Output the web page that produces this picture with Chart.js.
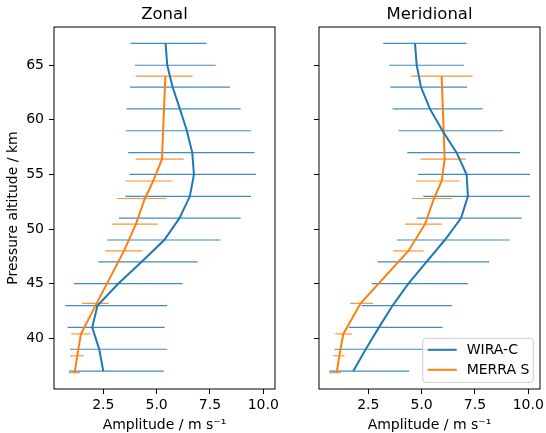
<!DOCTYPE html>
<html>
<head>
<meta charset="utf-8">
<script src="https://cdn.jsdelivr.net/npm/chart.js@4.4.1/dist/chart.umd.min.js"></script>
<style>
  html, body { margin: 0; padding: 0; background: #fff; }
  #wrap { position: relative; width: 546px; height: 433px; }
  canvas { position: absolute; top: 0; }
  #zonal { left: 0; }
  #merid { left: 280px; }
</style>
</head>
<body>
<div id="wrap">
  <canvas id="zonal" width="280" height="433"></canvas>
  <canvas id="merid" width="266" height="433"></canvas>
</div>
<script>
// altitudes (km)
const wiraAlt = [37, 39, 41, 43, 45, 47, 49, 51, 53, 55, 57, 59, 61, 63, 65, 67];
const merraAlt = [36.85, 38.4, 40.4, 43.2, 48.0, 50.45, 52.8, 54.4, 56.4, 64.0];

// zonal amplitudes (m/s) and error bar ends
const zonalWira = [2.5, 2.31, 1.98, 2.23, 3.2, 4.3, 5.36, 6.07, 6.56, 6.75, 6.67, 6.42, 6.09, 5.75, 5.5, 5.42];
const zonalWiraLo = [0.89, 0.94, 0.83, 0.72, 1.13, 2.27, 2.69, 3.23, 3.53, 3.73, 3.67, 3.56, 3.59, 3.75, 3.98, 3.78];
const zonalWiraHi = [5.33, 5.5, 5.38, 5.5, 6.22, 6.92, 8.0, 8.94, 9.42, 9.66, 9.59, 9.44, 8.94, 8.44, 7.77, 7.34];
const zonalMerra = [1.16, 1.28, 1.45, 2.19, 3.47, 4.03, 4.45, 4.84, 5.25, 5.41];
const zonalMerraLo = [0.89, 0.95, 1.0, 1.5, 2.59, 2.91, 3.16, 3.52, 4.03, 4.02];
const zonalMerraHi = [1.41, 1.58, 1.89, 2.75, 4.34, 5.05, 5.47, 5.75, 6.27, 6.69];

// meridional amplitudes (m/s) and error bar ends
const meridWira = [1.8, 2.38, 3.0, 3.64, 4.38, 5.23, 6.09, 6.85, 7.17, 7.11, 6.64, 5.98, 5.39, 4.97, 4.77, 4.69];
const meridWiraLo = [0.67, 0.91, 1.59, 2.19, 2.66, 2.94, 3.83, 4.77, 5.08, 4.84, 4.33, 3.91, 3.64, 3.53, 3.48, 3.2];
const meridWiraHi = [4.42, 5.3, 5.98, 6.42, 7.17, 8.17, 9.11, 9.69, 10.08, 10.08, 9.61, 8.81, 7.86, 7.13, 6.98, 7.11];
const meridMerra = [1.02, 1.14, 1.33, 2.14, 4.38, 5.16, 5.58, 5.94, 6.08, 5.94];
const meridMerraLo = [0.67, 0.86, 0.95, 1.64, 3.66, 4.22, 4.56, 4.73, 4.95, 4.5];
const meridMerraHi = [1.22, 1.39, 1.73, 2.72, 5.09, 5.94, 6.44, 6.77, 7.08, 7.39];

const xTicks = [2.5, 5.0, 7.5, 10.0];
const yTicks = [40, 45, 50, 55, 60, 65];

const BLUE = '#1f77b4';
const ORANGE = '#ff7f0e';
const FONT = 'DejaVu Sans';

function pts(xs, ys) {
    return xs.map((x, i) => ({ x: x, y: ys[i] }));
}

// horizontal error bars, drawn under the lines
const errorBars = {
    id: 'errorBars',
    beforeDatasetsDraw(chart) {
        const ctx = chart.ctx;
        const xs = chart.scales.x;
        const ys = chart.scales.y;
        ctx.save();
        ctx.lineWidth = 1.2;
        chart.data.datasets.forEach((ds) => {
            ctx.strokeStyle = ds.barColor;
            ds.lo.forEach((lo, i) => {
                const y = ys.getPixelForValue(ds.data[i].y);
                ctx.beginPath();
                ctx.moveTo(xs.getPixelForValue(lo), y);
                ctx.lineTo(xs.getPixelForValue(ds.hi[i]), y);
                ctx.stroke();
            });
        });
        ctx.restore();
    }
};

// box round the plot and the title above it
const frame = {
    id: 'frame',
    afterDraw(chart, args, opts) {
        const ctx = chart.ctx;
        const a = chart.chartArea;
        ctx.save();
        ctx.strokeStyle = '#000';
        ctx.lineWidth = 1;
        ctx.strokeRect(a.left, a.top, a.right - a.left, a.bottom - a.top);
        ctx.fillStyle = '#000';
        ctx.font = '16.5px "' + FONT + '"';
        ctx.textAlign = 'center';
        ctx.textBaseline = 'alphabetic';
        ctx.fillText(opts.text, (a.left + a.right) / 2, a.top - 8);

        if (opts.legend) {
            const w = 110.6, h = 44;
            const bx = a.right - 6.7 - w;
            const by = a.bottom - 6.7 - h;
            ctx.fillStyle = 'rgba(255,255,255,0.8)';
            ctx.strokeStyle = '#cccccc';
            ctx.beginPath();
            ctx.roundRect(bx, by, w, h, 3);
            ctx.fill();
            ctx.stroke();
            ctx.font = '14px "' + FONT + '"';
            ctx.textAlign = 'left';
            ctx.textBaseline = 'middle';
            chart.data.datasets.forEach((ds, i) => {
                const y = by + 11.5 + i * 20;
                ctx.strokeStyle = ds.borderColor;
                ctx.lineWidth = 2;
                ctx.beginPath();
                ctx.moveTo(bx + 5, y);
                ctx.lineTo(bx + 34, y);
                ctx.stroke();
                ctx.fillStyle = '#000';
                ctx.fillText(ds.label, bx + 44, y + 0.5);
            });
        }
        ctx.restore();
    }
};

function makeChart(id, title, wira, wLo, wHi, merra, mLo, mHi, showY, yWidth, padRight, legend) {
    return new Chart(document.getElementById(id), {
        type: 'scatter',
        data: {
            datasets: [{
                label: 'WIRA-C',
                data: pts(wira, wiraAlt),
                lo: wLo, hi: wHi,
                showLine: true,
                borderColor: BLUE,
                barColor: 'rgba(31,119,180,0.85)',
                borderWidth: 2,
                pointRadius: 0
            }, {
                label: 'MERRA S',
                data: pts(merra, merraAlt),
                lo: mLo, hi: mHi,
                showLine: true,
                borderColor: ORANGE,
                barColor: 'rgba(255,127,14,0.85)',
                borderWidth: 2,
                pointRadius: 0
            }]
        },
        options: {
            responsive: false,
            animation: false,
            layout: { padding: { top: 27, right: padRight, bottom: 0, left: 0 } },
            plugins: {
                legend: { display: false },
                tooltip: { enabled: false },
                frame: { text: title, legend: legend }
            },
            scales: {
                x: {
                    type: 'linear',
                    min: 0.19,
                    max: 10.55,
                    grid: { drawOnChartArea: false, drawTicks: true, tickLength: 5, color: '#000' },
                    border: { display: false },
                    afterBuildTicks: (s) => { s.ticks = xTicks.map((v) => ({ value: v })); },
                    afterFit: (s) => { s.height = 44; s.paddingLeft = 0; s.paddingRight = 0; },
                    ticks: {
                        color: '#000',
                        padding: 3,
                        maxRotation: 0,
                        font: { family: FONT, size: 14 },
                        callback: (v) => v.toFixed(1)
                    },
                    title: {
                        display: true,
                        text: 'Amplitude / m s\u207B\u00B9',
                        color: '#000',
                        font: { family: FONT, size: 14 },
                        padding: { top: 0, bottom: -1 }
                    }
                },
                y: {
                    type: 'linear',
                    min: 35.36,
                    max: 68.5,
                    grid: { drawOnChartArea: false, drawTicks: true, tickLength: 5, color: '#000' },
                    border: { display: false },
                    afterBuildTicks: (s) => { s.ticks = yTicks.map((v) => ({ value: v })); },
                    afterFit: (s) => { s.width = yWidth; s.paddingTop = 0; s.paddingBottom = 0; },
                    ticks: {
                        color: '#000',
                        padding: 5,
                        font: { family: FONT, size: 14 },
                        callback: (v) => showY ? String(v) : ''
                    },
                    title: {
                        display: showY,
                        text: 'Pressure altitude / km',
                        color: '#000',
                        font: { family: FONT, size: 14 },
                        padding: { top: 5, bottom: 0 }
                    }
                }
            }
        },
        plugins: [errorBars, frame]
    });
}

makeChart('zonal', 'Zonal', zonalWira, zonalWiraLo, zonalWiraHi,
    zonalMerra, zonalMerraLo, zonalMerraHi, true, 54, 5, false);
makeChart('merid', 'Meridional', meridWira, meridWiraLo, meridWiraHi,
    meridMerra, meridMerraLo, meridMerraHi, false, 39, 6, true);
</script>
</body>
</html>
